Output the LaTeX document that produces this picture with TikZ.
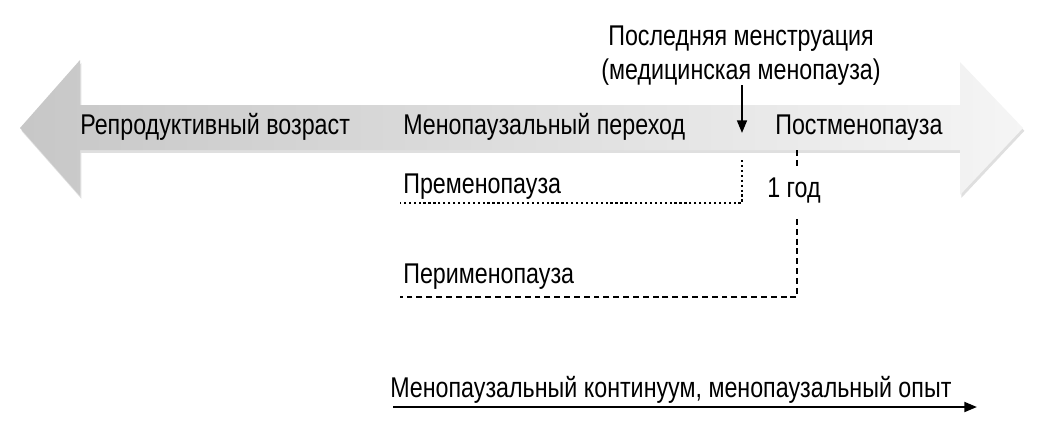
\documentclass[tikz,border=0pt]{standalone}
\usepackage{fontspec}
\setmainfont{Liberation Sans}[FakeStretch=0.815]
\usetikzlibrary{positioning, arrows.meta, shadows}

\begin{document}
\begin{tikzpicture}[x=0.025cm, y=-0.025cm, >={Triangle[length=9pt, width=7pt]},
    every node/.style={font=\fontsize{20.3}{24}\selectfont, inner sep=0pt, anchor=base west},
    dotline/.style={line width=1.8pt, dash pattern=on 1.6pt off 1.9pt},
    dashline/.style={line width=1.8pt, dash pattern=on 4.2pt off 2.8pt}]
    \useasboundingbox (0,0) rectangle (1042,424);

    % Big double arrow
    \path[left color=black!22, right color=black!4,
        drop shadow={shadow xshift=1pt, shadow yshift=-2pt, opacity=0.25}]
        (20,128) -- (80,60) -- (80,105) -- (960,105) -- (960,62) -- (1023,128)
        -- (960,195) -- (960,150) -- (80,150) -- (80,196) -- cycle;

    % Phases on the arrow
    \node (repro) at (80,134) {Репродуктивный возраст};
    \node (trans) at (403,134) {Менопаузальный переход};
    \node (post) at (775,134) {Постменопауза};

    % Last menstruation
    \node[anchor=base] (lmp1) at (741,45) {Последняя менструация};
    \node[anchor=base] (lmp2) at (741,79) {(медицинская менопауза)};
    \coordinate (lmpend) at (742,133);
    \draw[->, line width=1.5pt] (lmp2.south -| lmpend) -- (lmpend);

    % Premenopause
    \coordinate (pre1) at (742,160);
    \coordinate (pre2) at (400,203);
    \draw[dotline] (pre1) |- (pre2);
    \node (premeno) at (403,193) {Пременопауза};

    % Perimenopause
    \coordinate (peri1) at (797,150);
    \coordinate (peri2) at (400,297);
    \draw[dashline] (peri1) |- (peri2);
    \node[anchor=center, fill=white, inner ysep=8pt] (year) at (794,191) {1 год};
    \node (perimeno) at (403,283) {Перименопауза};

    % Continuum
    \node (cont) at (390,397) {Менопаузальный континуум, менопаузальный опыт};
    \coordinate (c1) at (393,407);
    \coordinate (c2) at (977,407);
    \draw[->, line width=1.6pt] (c1) -- (c2);
\end{tikzpicture}
\end{document}
